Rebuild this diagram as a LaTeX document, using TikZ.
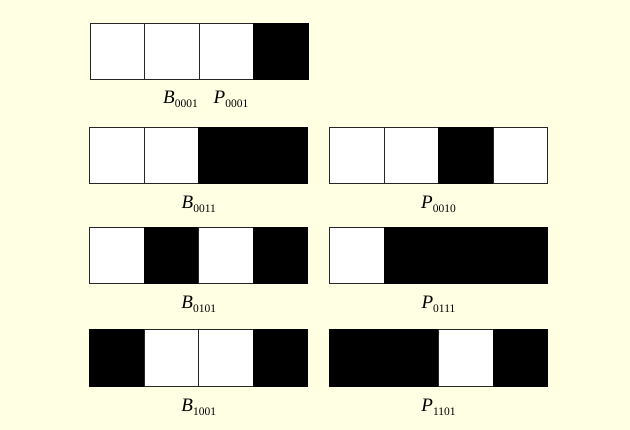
\documentclass[tikz,border=0pt]{standalone}
\usepackage{fontspec}
\setmainfont{Liberation Serif}
\newcommand\bitlabel[2]{\textit{#1}\raisebox{-0.2em}{\fontsize{11.5}{11.5}\selectfont #2}}
\newcommand\cellrow[4]{%
  \foreach \b [count=\i] in {#4} {%
    \node[c\b] (#1c\i) at ({#2+(\i-1)*54.5},#3) {};
  }%
}
\begin{document}
\begin{tikzpicture}[x=1pt,y=-1pt,
  cell/.style={line width=0.8pt,minimum width=54.5pt,minimum height=56.5pt,inner sep=0pt,outer sep=0pt,anchor=north west},
  c0/.style={cell,draw=black!85,fill=white},
  c1/.style={cell,draw=black,fill=black},
  lab/.style={font=\fontsize{19}{19}\selectfont,inner sep=0pt,anchor=base}]
\path[fill={rgb,255:red,255;green,255;blue,228}] (0,0) rectangle (630,430);
\useasboundingbox (0,0) rectangle (630,430);
% row 1
\cellrow{ra}{90}{23}{0,0,0,1}
\node[lab] (la1) at (180.5,104) {\bitlabel{B}{0001}};
\node[lab] (la2) at (231,104) {\bitlabel{P}{0001}};
% row 2
\cellrow{rbl}{89.5}{127}{0,0,1,1}
\cellrow{rbr}{329.5}{127}{0,0,1,0}
\node[lab] (lb1) at (198.75,209) {\bitlabel{B}{0011}};
\node[lab] (lb2) at (438.5,209) {\bitlabel{P}{0010}};
% row 3
\cellrow{rcl}{89.5}{227}{0,1,0,1}
\cellrow{rcr}{329.5}{227}{0,1,1,1}
\node[lab] (lc1) at (198.75,309) {\bitlabel{B}{0101}};
\node[lab] (lc2) at (438.5,309) {\bitlabel{P}{0111}};
% row 4
\cellrow{rdl}{89.5}{329.5}{1,0,0,1}
\cellrow{rdr}{329.5}{329.5}{1,1,0,1}
\node[lab] (ld1) at (198.75,412) {\bitlabel{B}{1001}};
\node[lab] (ld2) at (438.5,412) {\bitlabel{P}{1101}};
\end{tikzpicture}
\end{document}
